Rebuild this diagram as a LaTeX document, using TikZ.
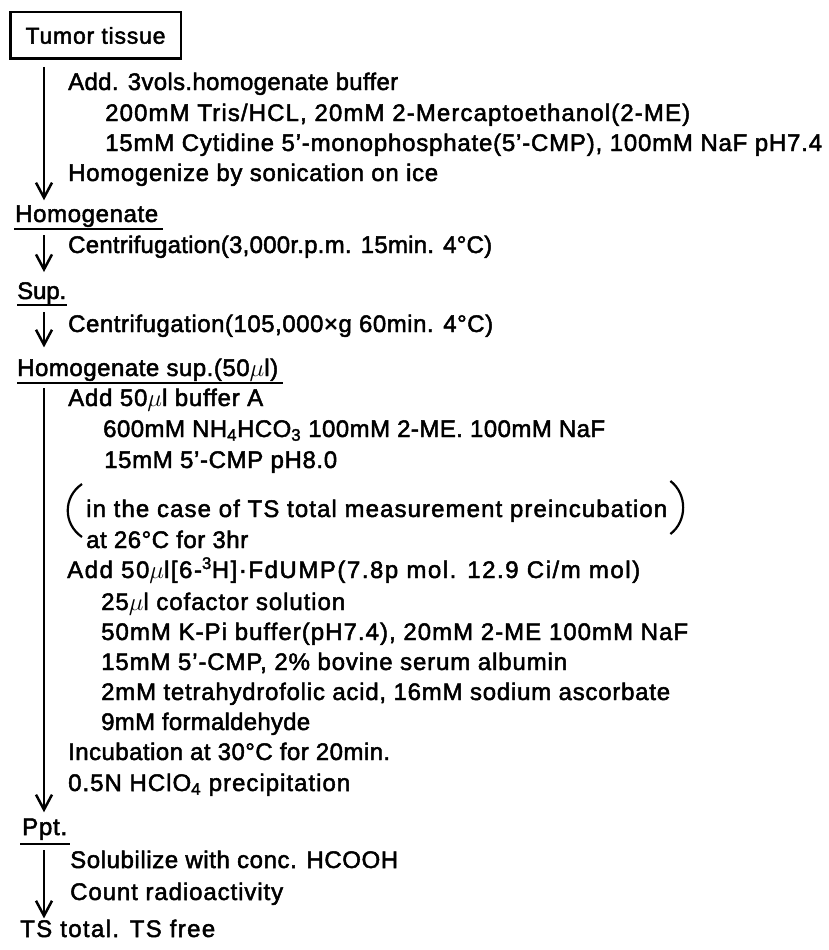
\documentclass[tikz,border=0pt]{standalone}
\usepackage{fontspec}
\setmainfont{Liberation Sans}[FakeBold=2]
\usetikzlibrary{arrows.meta}
\newlength\fitwa
\newlength\fitwb
\newcommand\fitto[2]{%
  \settowidth\fitwa{#2}%
  \settowidth\fitwb{\addfontfeatures{LetterSpace=10}#2}%
  \pgfmathsetmacro\fitls{10*(#1-\fitwa)/(\fitwb-\fitwa)}%
  \edef\fitdo{\noexpand\addfontfeatures{LetterSpace=\fitls}}\fitdo #2}
\begin{document}
\begin{tikzpicture}[x=1pt,y=-1pt,
  txt/.style={anchor=base west, inner sep=0pt, font=\fontsize{24}{28}\selectfont},
  head/.style={txt},
  arr/.style={line width=2.5pt, -{Straight Barb[length=15pt,width=16pt,line width=2.5pt]}},
  ul/.style={line width=2pt},
  tbox/.style={draw, line width=2.5pt, minimum width=170.5pt, minimum height=46.5pt, inner sep=0pt, font=\fontsize{23}{26}\selectfont},
  paren/.style={line width=2.2pt}]
\fill[white] (0,0) rectangle (828,950);
\useasboundingbox (0,0) rectangle (828,950);
\coordinate (axis) at (44,0);

% headings
\node[tbox] (tumor) at (95.5,35.5) {\fitto{140}{Tumor tissue}};
\node[head] (homog) at (15,222) {\fitto{143}{Homogenate}};
\node[head] (sup) at (17,299) {\fitto{49}{Sup.}};
\node[head] (hsup) at (17,376) {\fitto{261}{Homogenate sup.(50$\mu$l)}};
\node[head] (ppt) at (22,835) {\fitto{45}{Ppt.}};
\node[head] (ts) at (20,937) {\fitto{195}{TS total. TS free}};

% step texts
\node[txt] (s1) at (68,90) {\fitto{330}{Add. 3vols.homogenate buffer}};
\node[txt] (s2) at (105,121) {\fitto{585}{200mM Tris/HCL, 20mM 2-Mercaptoethanol(2-ME)}};
\node[txt] (s3) at (105,151) {\fitto{717}{15mM Cytidine 5'-monophosphate(5'-CMP), 100mM NaF pH7.4}};
\node[txt] (s4) at (68,181) {\fitto{370}{Homogenize by sonication on ice}};
\node[txt] (s5) at (68,253) {\fitto{424}{Centrifugation(3,000r.p.m. 15min. 4°C)}};
\node[txt] (s6) at (68,332) {\fitto{425}{Centrifugation(105,000×g 60min. 4°C)}};
\node[txt] (s7) at (68,406) {\fitto{195}{Add 50$\mu$l buffer A}};
\node[txt] (s8) at (103,437) {\fitto{502}{600mM NH\textsubscript{4}HCO\textsubscript{3} 100mM 2-ME. 100mM NaF}};
\node[txt] (s9) at (104,468) {\fitto{233}{15mM 5'-CMP pH8.0}};
\node[txt] (s10) at (86,517) {\fitto{581}{in the case of TS total measurement preincubation}};
\node[txt] (s11) at (86,548) {\fitto{162}{at 26°C for 3hr}};
\node[txt] (s12) at (67,578) {\fitto{573}{Add 50$\mu$l[6-\textsuperscript{3}H]·FdUMP(7.8p mol. 12.9 Ci/m mol)}};
\node[txt] (s13) at (101,610) {\fitto{244}{25$\mu$l cofactor solution}};
\node[txt] (s14) at (101,640) {\fitto{587}{50mM K-Pi buffer(pH7.4), 20mM 2-ME 100mM NaF}};
\node[txt] (s15) at (101,670) {\fitto{466}{15mM 5'-CMP, 2\% bovine serum albumin}};
\node[txt] (s16) at (101,700) {\fitto{569}{2mM tetrahydrofolic acid, 16mM sodium ascorbate}};
\node[txt] (s17) at (101,730) {\fitto{209}{9mM formaldehyde}};
\node[txt] (s18) at (68,760) {\fitto{322}{Incubation at 30°C for 20min.}};
\node[txt] (s19) at (68,791) {\fitto{282}{0.5N HClO\textsubscript{4} precipitation}};
\node[txt] (s20) at (70,868) {\fitto{328}{Solubilize with conc. HCOOH}};
\node[txt] (s21) at (70,900) {\fitto{213}{Count radioactivity}};

% parentheses
\draw[paren] ([shift={(-4pt,-20pt)}]s10.base west) .. controls ([shift={(-23pt,-7pt)}]s10.base west) and ([shift={(-23pt,20pt)}]s10.base west) .. ([shift={(-4pt,33pt)}]s10.base west);
\draw[paren] ([shift={(3pt,-17pt)}]s10.base east) .. controls ([shift={(20pt,-4pt)}]s10.base east) and ([shift={(20pt,23pt)}]s10.base east) .. ([shift={(3pt,36pt)}]s10.base east);

% underlines
\draw[ul] ([shift={(-1pt,-7pt)}]homog.base west) -- ([shift={(5pt,-7pt)}]homog.base east);
\draw[ul] ([shift={(0pt,-6pt)}]sup.base west) -- ([shift={(1pt,-6pt)}]sup.base east);
\draw[ul] ([shift={(0pt,-7pt)}]hsup.base west) -- ([shift={(5pt,-7pt)}]hsup.base east);
\draw[ul] ([shift={(-2pt,-9pt)}]ppt.base west) -- ([shift={(3pt,-9pt)}]ppt.base east);

% arrows
\draw[arr] ([yshift=-7pt]tumor.south -| axis) -- ([yshift=5pt]homog.north -| axis);
\draw[arr] ([yshift=-8pt]homog.south -| axis) -- ([yshift=10pt]sup.north -| axis);
\draw[arr] ([yshift=-8pt]sup.south -| axis) -- ([yshift=11pt]hsup.north -| axis);
\draw[arr] ([yshift=-7pt]hsup.south -| axis) -- ([yshift=6pt]ppt.north -| axis);
\draw[arr] ([yshift=-10pt]ppt.south -| axis) -- ([yshift=1pt]ts.north -| axis);
\end{tikzpicture}
\end{document}
